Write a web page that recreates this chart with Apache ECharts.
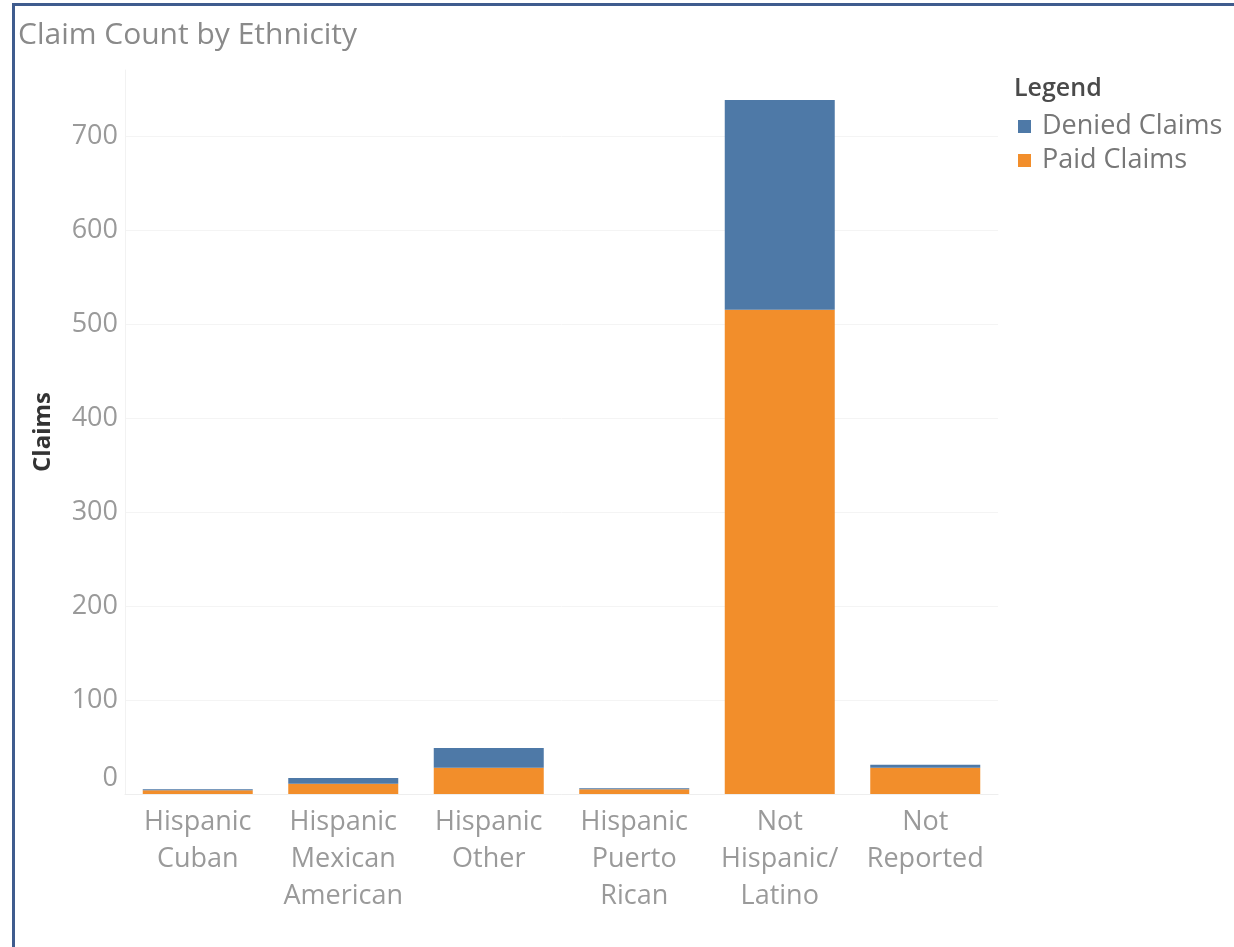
<!DOCTYPE html>
<html>
<head>
<meta charset="utf-8">
<script src="https://cdn.jsdelivr.net/npm/echarts@6/dist/echarts.min.js"></script>
<style>
  html, body { margin: 0; padding: 0; background: #fff; }
  #chart { position: absolute; left: 0; top: 0; width: 1234px; height: 947px; }
  #frame { position: absolute; left: 12px; top: 3px; width: 1222px; height: 944px;
           border-left: 3px solid #3f5c8e; border-top: 3px solid #3f5c8e; box-sizing: border-box; pointer-events: none; }
</style>
</head>
<body>
<div id="chart"></div>
<div id="frame"></div>
<script>
const categories = ['Hispanic\nCuban', 'Hispanic\nMexican\nAmerican', 'Hispanic\nOther', 'Hispanic\nPuerto\nRican', 'Not\nHispanic/\nLatino', 'Not\nReported'];
const paidClaims = [4, 11, 28, 5, 515, 28];
const deniedClaims = [1, 6, 21, 1, 223, 3];
const seriesNames = ['Denied Claims', 'Paid Claims'];

const FONT = '"Open Sans", sans-serif';
const chart = echarts.init(document.getElementById('chart'));
chart.setOption({
  animation: false,
  title: [
    { text: 'Claim Count by Ethnicity', left: 13, top: 15,
      textStyle: { fontFamily: FONT, fontSize: 30, fontWeight: 'normal', color: '#8a8a8a' } },
    { text: 'Legend', left: 1009, top: 71,
      textStyle: { fontFamily: FONT, fontSize: 25, fontWeight: 600, color: '#4a4a4a' } }
  ],
  legend: {
    data: seriesNames,
    orient: 'vertical', left: 1013, top: 108,
    icon: 'rect', itemWidth: 13, itemHeight: 13, itemGap: 7,
    textStyle: { fontFamily: FONT, fontSize: 27, color: '#777', padding: [0, 0, 0, 6] }
  },
  grid: { left: 125, right: 236, top: 70, bottom: 153 },
  xAxis: {
    type: 'category', data: categories,
    axisLine: { show: true, lineStyle: { color: '#eeeeee', width: 1 } },
    axisTick: { show: false },
    axisLabel: { fontFamily: FONT, fontSize: 27, color: '#9a9a9a', lineHeight: 37, margin: 10, interval: 0 }
  },
  yAxis: {
    type: 'value', min: 0, max: 770, interval: 100,
    name: 'Claims', nameLocation: 'middle', nameGap: 70, nameRotate: 90,
    nameTextStyle: { fontFamily: FONT, fontSize: 24, fontWeight: 'bold', color: '#333' },
    axisLine: { show: true, lineStyle: { color: '#f2f2f2' } },
    axisTick: { show: false },
    axisLabel: {
      fontFamily: FONT, fontSize: 27, color: '#9a9a9a', margin: 7,
      formatter: v => (v % 100 !== 0 ? '' : (v === 0 ? '{z|0}' : String(v))),
      rich: { z: { fontFamily: FONT, fontSize: 27, color: '#9a9a9a', padding: [0, 0, 32, 0] } }
    },
    splitLine: { show: true, lineStyle: { color: ['#f4f4f4', '#f4f4f4', '#f4f4f4', '#f4f4f4', '#f4f4f4', '#f4f4f4', '#f4f4f4', '#f4f4f4', 'rgba(0,0,0,0)'] } }
  },
  series: [
    { name: 'Paid Claims', type: 'bar', stack: 'c', data: paidClaims, barWidth: 110,
      itemStyle: { color: '#f28e2b' } },
    { name: 'Denied Claims', type: 'bar', stack: 'c', data: deniedClaims, barWidth: 110,
      itemStyle: { color: '#4e79a7' } }
  ]
});
</script>
</body>
</html>
